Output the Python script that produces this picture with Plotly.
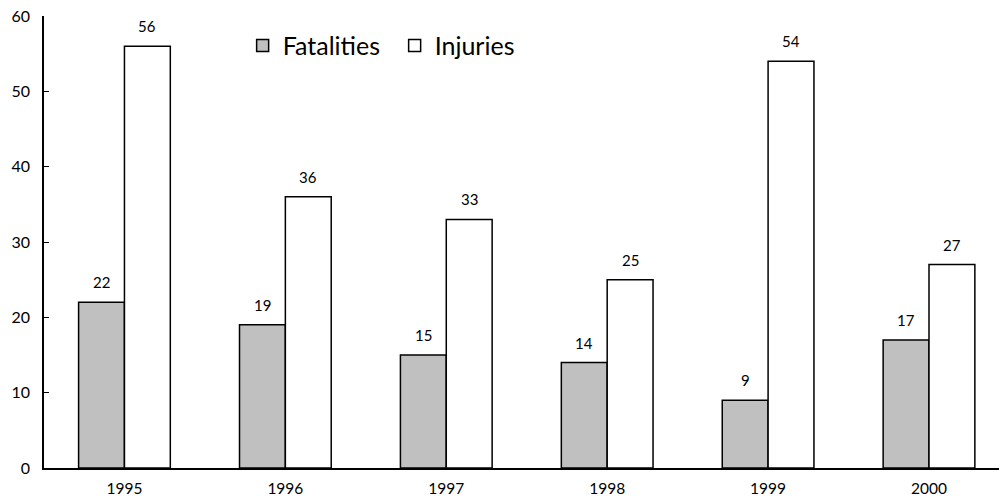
import plotly.graph_objects as go

years = ["1995", "1996", "1997", "1998", "1999", "2000"]
fatalities = [22, 19, 15, 14, 9, 17]
injuries = [56, 36, 33, 25, 54, 27]
y_ticks = [0, 10, 20, 30, 40, 50, 60]

font_family = "Lato, 'DejaVu Sans', sans-serif"

fig = go.Figure()
fig.add_trace(go.Bar(
    x=years, y=fatalities, name="Fatalities",
    marker=dict(color="#c0c0c0", line=dict(color="black", width=1.5)),
))
fig.add_trace(go.Bar(
    x=years, y=injuries, name="Injuries",
    marker=dict(color="white", line=dict(color="black", width=1.5)),
))

# value labels above each bar (positions come from the data via the axes)
for series, shift in ((fatalities, -23), (injuries, 23)):
    for i, v in enumerate(series):
        fig.add_annotation(x=i, y=v, xref="x", yref="y", text=str(v),
                           showarrow=False, xshift=shift, yshift=9,
                           yanchor="bottom", font=dict(size=15, color="black"))

fig.update_layout(
    width=999, height=504,
    margin=dict(l=44, r=0, t=16, b=36, autoexpand=False),
    paper_bgcolor="white", plot_bgcolor="white",
    barmode="group", bargap=0.43, bargroupgap=0,
    font=dict(family=font_family, size=15, color="black"),
    showlegend=True,
    legend=dict(orientation="h", x=0.208, y=0.934, xanchor="left", yanchor="middle",
                font=dict(size=25, color="black"), bgcolor="rgba(0,0,0,0)",
                itemwidth=30, entrywidth=107, traceorder="normal"),
    xaxis=dict(type="category", range=[-0.5, 5.435], showline=True, linecolor="black",
               linewidth=1.5, ticks="", showgrid=False, ticklabelstandoff=6,
               tickfont=dict(size=15.5), ticklabeloverflow="allow"),
    yaxis=dict(range=[0, 60], tickvals=y_ticks, showline=True, linecolor="black",
               linewidth=1.5, ticks="inside", ticklen=5, tickcolor="black",
               showgrid=False, zeroline=False, tickfont=dict(size=16),
               ticklabelstandoff=9, ticklabeloverflow="allow"),
)

fig.write_html("out.html", config={"displayModeBar": False},
               post_script="document.body.style.margin='0';document.body.style.overflow='hidden';")
